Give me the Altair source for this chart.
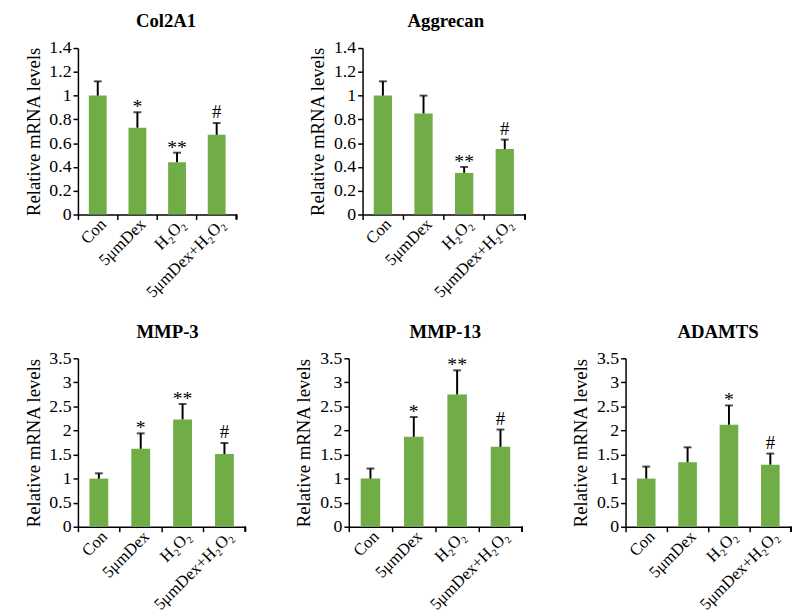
import altair as alt
import pandas as pd

groups = ["Con", "5μmDex", "H₂O₂", "5μmDex+H₂O₂"]

col2a1_mean = [1.00, 0.73, 0.44, 0.67]
col2a1_upper = [1.12, 0.86, 0.52, 0.77]
col2a1_sig = ["", "*", "**", "#"]

aggrecan_mean = [1.00, 0.85, 0.35, 0.55]
aggrecan_upper = [1.12, 1.00, 0.40, 0.63]
aggrecan_sig = ["", "", "**", "#"]

mmp3_mean = [1.00, 1.62, 2.23, 1.51]
mmp3_upper = [1.11, 1.94, 2.55, 1.74]
mmp3_sig = ["", "*", "**", "#"]

mmp13_mean = [1.00, 1.87, 2.75, 1.66]
mmp13_upper = [1.21, 2.28, 3.25, 2.02]
mmp13_sig = ["", "*", "**", "#"]

adamts_mean = [1.00, 1.34, 2.12, 1.29]
adamts_upper = [1.25, 1.65, 2.52, 1.52]
adamts_sig = ["", "", "*", "#"]

FONT = "Liberation Serif"
GREEN = "#70AD47"


def panel(title, mean, upper, sig, ymax, step, w, h, dx):
    df = pd.DataFrame({"group": groups, "mean": mean, "upper": upper, "sig": sig})
    xax = alt.Axis(labelAngle=-45, labelAlign="right", labelBaseline="middle",
                   labelFontSize=17, labelFont=FONT, labelColor="black",
                   bandPosition=0, tickSize=5, tickColor="black",
                   domainColor="black", labelPadding=2, labelOffset=6)
    x = alt.X("group:N", sort=groups, title=None,
              scale=alt.Scale(paddingInner=0, paddingOuter=0), axis=xax)
    ticks = [round(i * step, 2) for i in range(int(round(ymax / step)) + 1)]
    yax = alt.Axis(values=ticks, format="~g", grid=False, labelOverlap=False,
                   labelFontSize=18, labelFont=FONT, labelColor="black",
                   tickSize=5, tickColor="black", domainColor="black",
                   titleFont=FONT, titleFontSize=19, titleFontWeight="normal",
                   titleColor="black", titlePadding=6)
    ysc = alt.Scale(domain=[0, ymax], nice=False)

    def Y(field):
        return alt.Y(field, title="Relative mRNA levels", scale=ysc, axis=yax)

    base = alt.Chart(df)
    bars = base.mark_bar(color=GREEN, width=alt.RelativeBandSize(0.45)).encode(
        x=x, y=Y("mean:Q"))
    rule = base.mark_rule(color="black", strokeWidth=2).encode(
        x=x, y=Y("mean:Q"), y2="upper:Q")
    cap = base.mark_tick(color="black", thickness=2, size=8, orient="horizontal").encode(
        x=x, y=Y("upper:Q"))
    stars = base.transform_filter(alt.datum.sig != "#").mark_text(
        font=FONT, fontSize=20, baseline="alphabetic", dy=1, color="black", clip=True
    ).encode(x=x, y=Y("upper:Q"), text="sig:N")
    hashes = base.transform_filter(alt.datum.sig == "#").mark_text(
        font=FONT, fontSize=19, baseline="alphabetic", dy=-5, color="black", clip=True
    ).encode(x=x, y=Y("upper:Q"), text="sig:N")
    end_tick = alt.Chart(df).mark_rule(color="black", strokeWidth=1.5).encode(
        x=alt.value(w), y=alt.value(h), y2=alt.value(h + 5))
    return alt.layer(bars, rule, cap, stars, hashes, end_tick).properties(
        width=w, height=h,
        title=alt.TitleParams(title, font=FONT, fontSize=19, fontWeight="bold",
                              color="black", frame="group", anchor="middle", dx=dx, offset=8))


p1 = panel("Col2A1", col2a1_mean, col2a1_upper, col2a1_sig, 1.4, 0.2, 161, 169, 9)
p2 = panel("Aggrecan", aggrecan_mean, aggrecan_upper, aggrecan_sig, 1.4, 0.2, 165, 169, 2)
p3 = panel("MMP-3", mmp3_mean, mmp3_upper, mmp3_sig, 3.5, 0.5, 170, 171, 6)
p4 = panel("MMP-13", mmp13_mean, mmp13_upper, mmp13_sig, 3.5, 0.5, 176, 171, 10)
p5 = panel("ADAMTS", adamts_mean, adamts_upper, adamts_sig, 3.5, 0.5, 168, 171, 10)

top = alt.hconcat(p1, p2, spacing=72)
bottom = alt.hconcat(p3, p4, p5, spacing=49)

chart = alt.vconcat(top, bottom, spacing=22).properties(
    padding={"left": 16, "top": 0, "right": 0, "bottom": 0}
).configure_view(stroke=None).configure_axis(domainWidth=1.5, tickWidth=1.5)

chart.save("out.html", embed_options={"renderer": "svg", "actions": False})
